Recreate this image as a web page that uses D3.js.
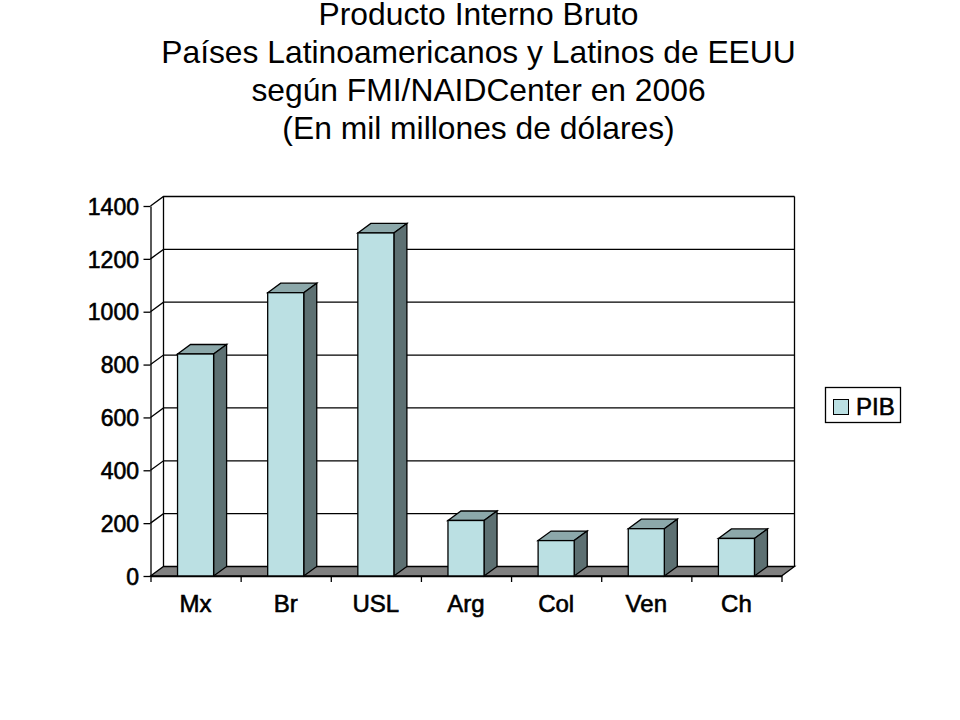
<!DOCTYPE html>
<html>
<head>
<meta charset="utf-8">
<script src="https://d3js.org/d3.v7.min.js"></script>
<style>
  html, body { margin: 0; padding: 0; background: #fff; }
  svg { display: block; }
  text { font-family: "Liberation Sans", Arial, sans-serif; fill: #000; }
  .lab text { stroke: #000; stroke-width: 0.6px; }
</style>
</head>
<body>
<div id="chart"></div>
<script>
const titleLines = [
  "Producto Interno Bruto",
  "Países Latinoamericanos y Latinos de EEUU",
  "según FMI/NAIDCenter en 2006",
  "(En mil millones de dólares)"
];
const categories = ["Mx", "Br", "USL", "Arg", "Col", "Ven", "Ch"];
const pib = [840, 1072, 1298, 210, 134, 179, 142];
const yTicks = [0, 200, 400, 600, 800, 1000, 1200, 1400];
const seriesName = "PIB";

const width = 960, height = 720;
// front plane of the 3d box and how far back the wall sits
const plotLeft = 150.5, plotRight = 781.5, plotTop = 206, plotBottom = 576;
const depthX = 13, depthY = -9.5;

const svg = d3.select("#chart").append("svg")
  .attr("width", width)
  .attr("height", height);

svg.append("g").selectAll("text")
  .data(titleLines)
  .join("text")
    .attr("x", 478.5)
    .attr("y", (d, i) => 24.5 + i * 38.3)
    .attr("text-anchor", "middle")
    .attr("font-size", 31.8)
    .text(d => d);

const y = d3.scaleLinear().domain([0, 1400]).range([plotBottom, plotTop]);
const x = d3.scaleBand().domain(categories).range([plotLeft, plotRight])
  .paddingInner(0.6).paddingOuter(0.3);
const xEdge = d3.scaleLinear().domain([0, categories.length]).range([plotLeft, plotRight]);

// back wall and floor
const floor = [[plotLeft, plotBottom], [plotLeft + depthX, plotBottom + depthY], [plotRight + depthX, plotBottom + depthY], [plotRight, plotBottom]];
svg.append("polygon")
  .attr("points", floor.join(" "))
  .attr("fill", "#808080")
  .attr("stroke", "#000")
  .attr("stroke-width", 1.3);

svg.append("g").selectAll("path")
  .data(yTicks.slice(1))
  .join("path")
    .attr("d", d => `M${plotLeft},${y(d)}L${plotLeft + depthX},${y(d) + depthY}H${plotRight + depthX}`)
    .attr("fill", "none")
    .attr("stroke", "#000")
    .attr("stroke-width", 1.3);

svg.append("path")
  .attr("d", `M${plotLeft + depthX},${plotBottom + depthY}V${plotTop + depthY}M${plotRight + depthX},${plotTop + depthY}V${plotBottom + depthY}`)
  .attr("fill", "none")
  .attr("stroke", "#000")
  .attr("stroke-width", 1.3);

// bars, each with top and side faces
const bars = svg.append("g").selectAll("g")
  .data(categories.map((c, i) => ({ c, v: pib[i] })))
  .join("g")
    .attr("stroke", "#000")
    .attr("stroke-width", 1.3);

bars.append("polygon")
  .attr("points", d => {
    const x0 = x(d.c), x1 = x0 + x.bandwidth(), t = y(d.v);
    return [[x0, t], [x0 + depthX, t + depthY], [x1 + depthX, t + depthY], [x1, t]].join(" ");
  })
  .attr("fill", "#8CA8AA");

bars.append("polygon")
  .attr("points", d => {
    const x1 = x(d.c) + x.bandwidth(), t = y(d.v);
    return [[x1, t], [x1 + depthX, t + depthY], [x1 + depthX, plotBottom + depthY], [x1, plotBottom]].join(" ");
  })
  .attr("fill", "#5D7072");

bars.append("rect")
  .attr("x", d => x(d.c))
  .attr("y", d => y(d.v))
  .attr("width", x.bandwidth())
  .attr("height", d => plotBottom - y(d.v))
  .attr("fill", "#BBE0E3");

// axes
const yAxis = svg.append("g").attr("class", "lab")
  .attr("transform", `translate(${plotLeft},0)`)
  .call(d3.axisLeft(y).tickValues(yTicks).tickSize(7).tickSizeOuter(0).tickPadding(4.5).tickFormat(d3.format("d")));
yAxis.selectAll("text").attr("font-size", 23).attr("dy", "0.36em");
yAxis.selectAll("line").attr("stroke", "#000").attr("stroke-width", 1.3);
yAxis.select(".domain").attr("stroke", "#000").attr("stroke-width", 1.3);

const xTicks = svg.append("g")
  .attr("transform", `translate(0,${plotBottom})`)
  .call(d3.axisBottom(xEdge).tickValues(d3.range(categories.length + 1)).tickSize(6).tickSizeOuter(0).tickFormat(""));
xTicks.selectAll("line").attr("stroke", "#000").attr("stroke-width", 1.3);
xTicks.select(".domain").attr("stroke", "#000").attr("stroke-width", 1.3);

const xAxis = svg.append("g").attr("class", "lab")
  .attr("transform", `translate(0,${plotBottom})`)
  .call(d3.axisBottom(x).tickSize(0).tickPadding(19));
xAxis.select(".domain").remove();
xAxis.selectAll("text").attr("font-size", 24);

// legend
const legend = svg.append("g").attr("class", "lab");
legend.append("rect")
  .attr("x", 825.5).attr("y", 387.5).attr("width", 75).attr("height", 35)
  .attr("fill", "#fff").attr("stroke", "#000").attr("stroke-width", 1.3);
legend.append("rect")
  .attr("x", 833.5).attr("y", 399.5).attr("width", 15).attr("height", 15)
  .attr("fill", "#BBE0E3").attr("stroke", "#000");
legend.append("text")
  .attr("x", 856).attr("y", 415)
  .attr("font-size", 24)
  .text(seriesName);
</script>
</body>
</html>
